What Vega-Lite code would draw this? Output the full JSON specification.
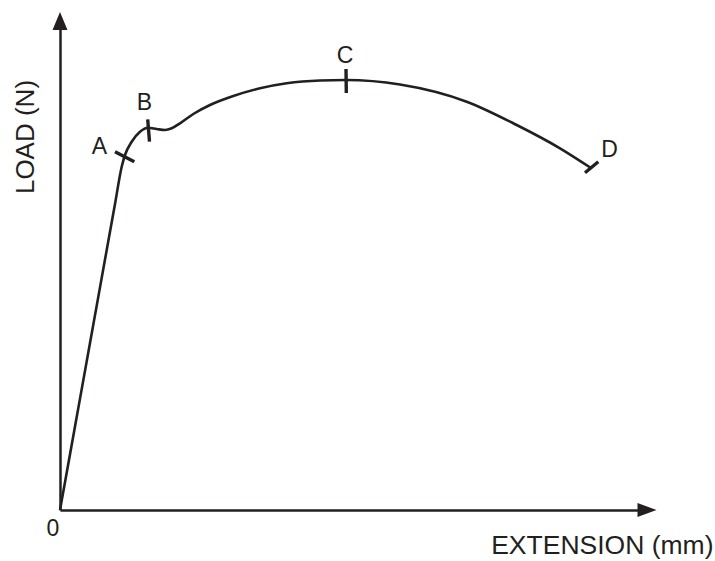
{
  "$schema": "https://vega.github.io/schema/vega-lite/v6.json",
  "width": 587,
  "height": 489,
  "autosize": {"type": "none"},
  "padding": {"left": 60, "top": 21, "right": 68, "bottom": 51},
  "background": "white",
  "config": {
    "view": {"stroke": null},
    "font": "Liberation Sans"
  },
  "datasets": {
    "curve": [
      {"x": 0, "y": 0},
      {"x": 1.5, "y": 8.35},
      {"x": 3, "y": 16.7},
      {"x": 4.5, "y": 25.04},
      {"x": 5.5, "y": 30.6},
      {"x": 6.17, "y": 34.33},
      {"x": 6.5, "y": 35.5},
      {"x": 7.17, "y": 36.83},
      {"x": 8.0, "y": 37.83},
      {"x": 8.83, "y": 38.23},
      {"x": 9.67, "y": 38.1},
      {"x": 10.5, "y": 38.0},
      {"x": 11.17, "y": 38.17},
      {"x": 12.0, "y": 38.67},
      {"x": 13.33, "y": 39.6},
      {"x": 15.0, "y": 40.5},
      {"x": 17.33, "y": 41.4},
      {"x": 20.0, "y": 42.17},
      {"x": 22.67, "y": 42.67},
      {"x": 26.0, "y": 42.95},
      {"x": 28.6, "y": 43.0},
      {"x": 34.0, "y": 42.55},
      {"x": 40.67, "y": 40.83},
      {"x": 45.67, "y": 38.5},
      {"x": 50.0, "y": 36.17},
      {"x": 53.1, "y": 34.2}
    ],
    "marks": [
      {"point": "A", "x": 5.5, "y": 35.83, "x2": 7.43, "y2": 34.83},
      {"point": "B", "x": 8.77, "y": 39.07, "x2": 8.95, "y2": 36.83},
      {"point": "C", "x": 28.6, "y": 44.1, "x2": 28.63, "y2": 41.7},
      {"point": "D", "x": 52.5, "y": 33.73, "x2": 53.83, "y2": 34.83}
    ],
    "letters": [
      {"point": "A", "x": 3.95, "y": 35.6},
      {"point": "B", "x": 8.45, "y": 40.0},
      {"point": "C", "x": 28.5, "y": 44.7},
      {"point": "D", "x": 54.95, "y": 35.33}
    ],
    "xarrow": [{"x": 58.7, "y": 0}],
    "yarrow": [{"x": 0, "y": 48.9}]
  },
  "encoding": {
    "x": {
      "field": "x", "type": "quantitative",
      "scale": {"domain": [0, 58.7], "nice": false, "zero": false},
      "axis": {
        "domain": true, "domainColor": "#231f20", "domainWidth": 2.5,
        "ticks": false, "tickSize": 0, "grid": false,
        "values": [0], "labelFontSize": 23, "labelColor": "#231f20",
        "labelFlush": false, "labelAlign": "center", "labelOffset": -7.5,
        "labelPadding": 25, "labelBaseline": "alphabetic",
        "title": "EXTENSION (mm)", "titleFontSize": 26.5, "titleFontWeight": "normal",
        "titleColor": "#231f20", "titleX": 653, "titleY": 43,
        "titleAlign": "right", "titleBaseline": "alphabetic"
      }
    },
    "y": {
      "field": "y", "type": "quantitative",
      "scale": {"domain": [0, 48.9], "nice": false, "zero": false},
      "axis": {
        "domain": true, "domainColor": "#231f20", "domainWidth": 2.5,
        "ticks": false, "tickSize": 0, "grid": false, "labels": false,
        "title": "LOAD (N)", "titleFontSize": 26, "titleFontWeight": "normal",
        "titleColor": "#231f20", "titleX": -27, "titleY": 115.5,
        "titleAngle": 270, "titleAlign": "center", "titleBaseline": "alphabetic"
      }
    }
  },
  "layer": [
    {
      "data": {"name": "curve"},
      "mark": {"type": "line", "interpolate": "monotone", "color": "#231f20", "strokeWidth": 2.6}
    },
    {
      "data": {"name": "marks"},
      "mark": {"type": "rule", "color": "#231f20", "strokeWidth": 3.4},
      "encoding": {
        "x2": {"field": "x2"},
        "y2": {"field": "y2"}
      }
    },
    {
      "data": {"name": "letters"},
      "mark": {"type": "text", "fontSize": 23, "color": "#231f20", "align": "center", "baseline": "alphabetic"},
      "encoding": {
        "text": {"field": "point"}
      }
    },
    {
      "data": {"name": "xarrow"},
      "mark": {"type": "point", "shape": "M1,0L-1,-0.74L-1,0.74Z", "size": 361, "filled": true, "opacity": 1, "color": "#231f20"}
    },
    {
      "data": {"name": "yarrow"},
      "mark": {"type": "point", "shape": "M0,-1L0.83,1L-0.83,1Z", "size": 324, "filled": true, "opacity": 1, "color": "#231f20"}
    }
  ]
}
